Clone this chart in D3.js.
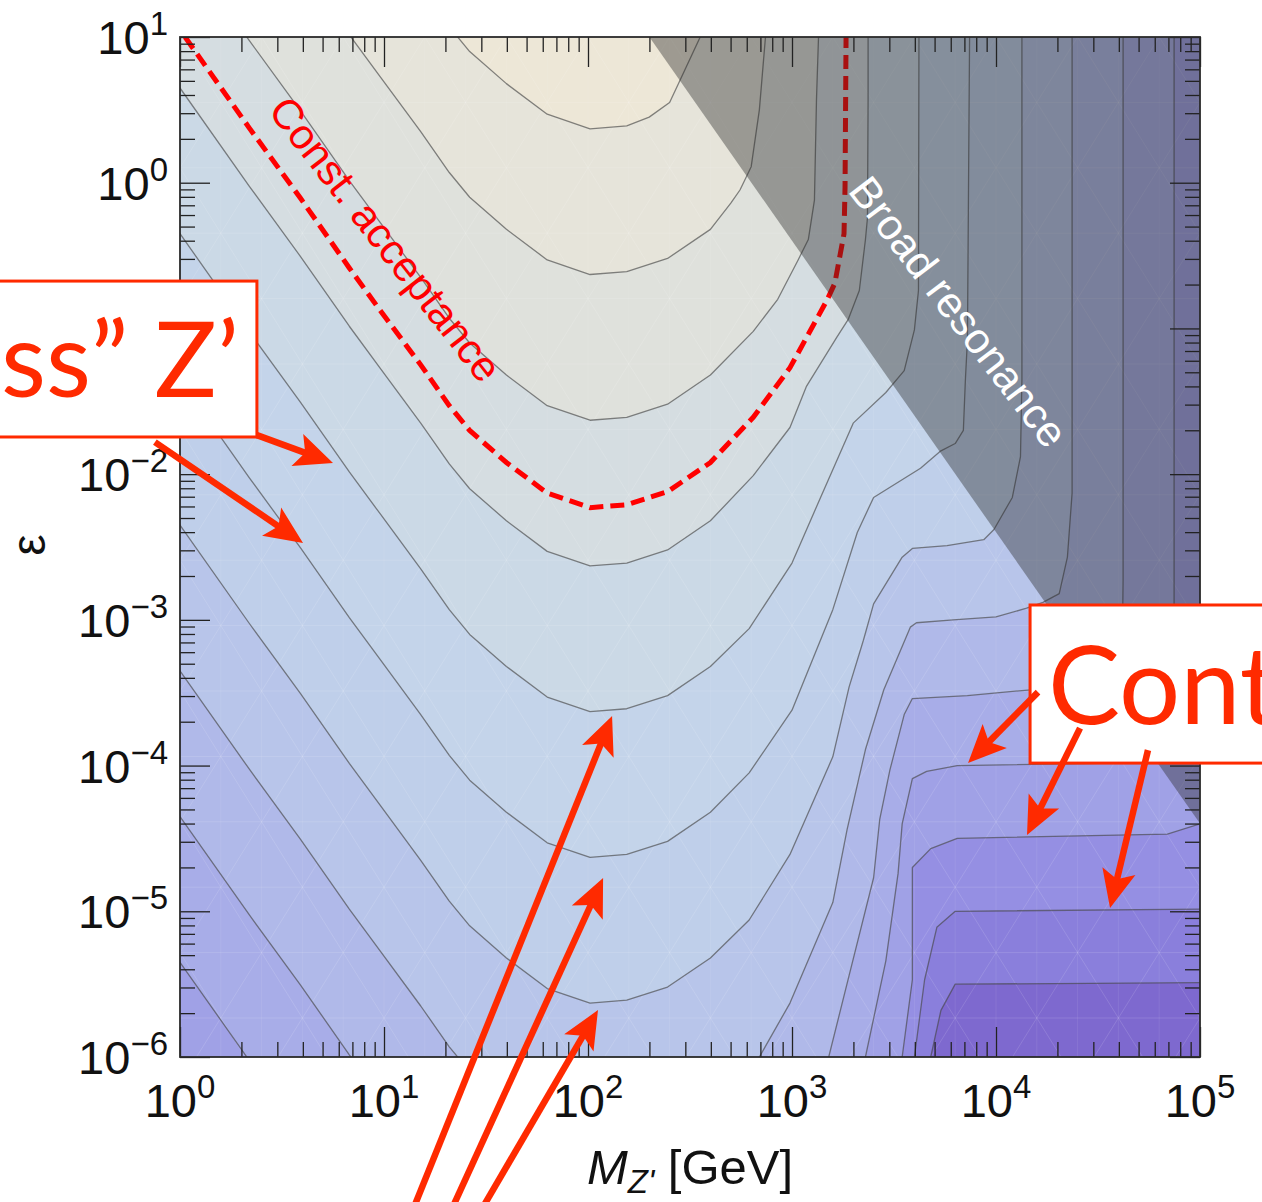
<!DOCTYPE html>
<html>
<head>
<meta charset="utf-8">
<script src="https://cdn.jsdelivr.net/npm/d3@7"></script>
<style>
  html, body { margin: 0; padding: 0; background: #ffffff; }
  svg { display: block; }
</style>
</head>
<body>
<svg id="chart" width="1262" height="1202"></svg>
<script>
// ---------------------------------------------------------------
// Axis decades (exponents of ten)
const massDecades = [0, 1, 2, 3, 4, 5];            // M_Z' = 1 GeV ... 100 TeV
const epsDecades  = [-6, -5, -4, -3, -2, -1, 0, 1]; // ε = 1e-6 ... 10

// Contour lines of the event yield, highest level first.
// Vertices are [log10 M_Z'/GeV, log10 ε]; end points lie just outside the frame.
const contourU1 = [[1.1,1.5],[1.18,1.35],[1.32,1.07],[1.42,0.90],[1.60,0.68],[1.80,0.47],[2.01,0.37],[2.19,0.39],[2.30,0.45],[2.40,0.55],[2.45,0.70],[2.55,1.0],[2.60,1.3]];
const contourU2 = [[0.50,1.7],[0.59,1.50],[0.83,1.015],[0.98,0.73],[1.18,0.35],[1.32,0.07],[1.42,-0.10],[1.60,-0.32],[1.80,-0.53],[2.01,-0.63],[2.19,-0.61],[2.39,-0.52],[2.60,-0.32],[2.70,-0.14],[2.745,-0.05],[2.80,0.11],[2.84,0.50],[2.87,1.0],[2.87,1.5]];
const contourU3 = [[0.1,1.45],[0.2,1.25],[0.34,0.975],[0.59,0.495],[0.83,0.015],[0.98,-0.27],[1.18,-0.65],[1.32,-0.93],[1.42,-1.10],[1.60,-1.32],[1.80,-1.53],[2.01,-1.63],[2.19,-1.61],[2.39,-1.52],[2.60,-1.32],[2.81,-1.02],[2.93,-0.80],[3.03,-0.53],[3.08,-0.39],[3.11,-0.12],[3.12,0.57],[3.13,1.0],[3.13,1.5]];
const contourU4 = [[-0.3,1.24],[0,0.65],[0.34,-0.025],[0.59,-0.505],[0.83,-0.985],[0.98,-1.27],[1.18,-1.65],[1.32,-1.93],[1.42,-2.10],[1.60,-2.32],[1.80,-2.53],[2.01,-2.63],[2.19,-2.61],[2.39,-2.52],[2.60,-2.32],[2.81,-2.01],[2.99,-1.68],[3.07,-1.40],[3.22,-1.06],[3.275,-0.94],[3.33,-0.74],[3.36,-0.39],[3.37,-0.24],[3.373,0.57],[3.373,1.5]];
const contourU5 = [[-0.3,0.24],[0,-0.35],[0.34,-1.025],[0.59,-1.505],[0.83,-1.985],[0.98,-2.27],[1.18,-2.65],[1.32,-2.93],[1.42,-3.10],[1.60,-3.32],[1.80,-3.53],[2.01,-3.63],[2.19,-3.61],[2.39,-3.52],[2.60,-3.32],[2.79,-3.06],[3.0,-2.61],[3.14,-2.16],[3.30,-1.65],[3.46,-1.44],[3.55,-1.29],[3.60,-1.01],[3.62,-0.74],[3.623,1.5]];
const contourU6 = [[-0.3,-0.76],[0,-1.35],[0.34,-2.025],[0.59,-2.505],[0.83,-2.985],[0.98,-3.27],[1.18,-3.65],[1.32,-3.93],[1.42,-4.10],[1.60,-4.32],[1.80,-4.53],[2.01,-4.63],[2.19,-4.61],[2.39,-4.52],[2.60,-4.32],[2.79,-4.05],[3.0,-3.62],[3.20,-2.93],[3.32,-2.40],[3.40,-2.16],[3.63,-1.96],[3.73,-1.84],[3.80,-1.79],[3.84,-1.70],[3.85,-1.35],[3.86,-1.08],[3.873,1.5]];
const contourU7 = [[-0.3,-1.76],[0,-2.35],[0.34,-3.025],[0.59,-3.505],[0.83,-3.985],[0.98,-4.27],[1.18,-4.65],[1.32,-4.93],[1.42,-5.10],[1.60,-5.32],[1.80,-5.53],[2.01,-5.63],[2.19,-5.61],[2.39,-5.52],[2.60,-5.32],[2.79,-5.06],[2.99,-4.61],[3.20,-3.94],[3.28,-3.46],[3.35,-3.14],[3.40,-2.89],[3.54,-2.57],[3.59,-2.51],[3.76,-2.49],[3.94,-2.45],[3.99,-2.38],[4.08,-2.16],[4.12,-1.88],[4.127,-1.35],[4.127,1.5]];
const contourL8 = [[-0.3,-2.76],[0,-3.35],[0.34,-4.025],[0.59,-4.505],[0.83,-4.985],[0.98,-5.27],[1.18,-5.65],[1.32,-5.93],[1.42,-6.10],[1.6,-6.5],[2.75,-6.5],[2.84,-6.0],[2.99,-5.63],[3.20,-4.94],[3.27,-4.44],[3.36,-3.89],[3.45,-3.48],[3.58,-3.05],[3.61,-3.02],[3.79,-3.00],[4.0,-2.98],[4.15,-2.92],[4.23,-2.88],[4.31,-2.82],[4.35,-2.57],[4.373,-2.13],[4.373,1.5]];
const contourL9 = [[-0.3,-3.76],[0,-4.35],[0.34,-5.025],[0.59,-5.505],[0.83,-5.985],[0.98,-6.27],[1.1,-6.5],[3.1,-6.5],[3.18,-6.0],[3.28,-5.44],[3.40,-4.77],[3.43,-4.37],[3.48,-4.03],[3.55,-3.65],[3.59,-3.54],[3.86,-3.52],[4.17,-3.48],[4.36,-3.45],[4.51,-3.38],[4.58,-3.28],[4.62,-3.07],[4.623,-2.73],[4.623,1.5]];
const contourL10 = [[-0.3,-4.76],[0,-5.35],[0.34,-6.025],[0.45,-6.5],[3.3,-6.5],[3.36,-6.0],[3.46,-5.34],[3.52,-4.74],[3.54,-4.40],[3.59,-4.09],[3.66,-4.04],[3.81,-4.0],[4.76,-3.98],[4.84,-3.91],[4.87,-3.72],[4.873,-3.41],[4.873,1.5]];
const contourL11 = [[3.5,-6.5],[3.54,-6.0],[3.59,-5.47],[3.59,-4.70],[3.68,-4.57],[3.81,-4.50],[4.84,-4.47],[5.0,-4.40],[5.12,-4.2],[5.12,1.5]];
const contourL12 = [[3.55,-6.5],[3.60,-6.0],[3.65,-5.47],[3.71,-5.11],[3.80,-5.0],[5.0,-4.985],[5.3,-4.98]];
const contourL13 = [[3.62,-6.5],[3.68,-6.0],[3.73,-5.68],[3.80,-5.50],[5.0,-5.49],[5.3,-5.49]];

const contourLevels = [contourU1, contourU2, contourU3, contourU4, contourU5, contourU6, contourU7,
                       contourL8, contourL9, contourL10, contourL11, contourL12, contourL13];

// Shading of the bands, from below the lowest contour up to above the highest
const bandColors = ["#7e69cf", "#8a7fdc", "#958fe3", "#a0a1e6", "#a8ade8", "#b0b9e9", "#b8c5ea",
                    "#bfcfea", "#c4d4ea", "#cbd9e6", "#d5dde1", "#dfe1dc", "#e6e4da", "#ede7d7"];

// Constant-acceptance curve, [log10 M, log10 ε]
const acceptanceCurve = [[0.025,1.0],[0.34,0.375],[0.59,-0.105],[0.83,-0.585],[0.98,-0.874],[1.18,-1.25],[1.32,-1.53],[1.42,-1.70],[1.60,-1.92],[1.80,-2.13],[2.01,-2.23],[2.19,-2.21],[2.39,-2.12],[2.60,-1.92],[2.81,-1.61],[2.99,-1.27],[3.17,-0.81],[3.21,-0.69],[3.255,-0.35],[3.26,-0.03],[3.265,1.0]];

// Edge of the broad-resonance region: [M (GeV), ε]
const broadResonanceEdge = [[200, 10], [1e5, 4e-5]];

// Call-out arrows: [from, to] in [log10 M, log10 ε]
const masslessArrows = [[[0.377,-1.732],[0.75,-1.924]], [[-0.123,-1.780],[0.603,-2.473]]];
const yieldArrows    = [[[1.127,-7.1],[2.118,-3.660]], [[1.314,-7.1],[2.074,-4.772]], [[1.456,-7.1],[2.049,-5.678]]];
const contactArrows  = [[[4.206,-3.496],[3.863,-3.983]], [[4.412,-3.743],[4.152,-4.477]], [[4.745,-3.894],[4.559,-4.978]]];

// ---------------------------------------------------------------
const svg = d3.select("#chart");
const plot = { left: 180, top: 37, size: 1020 };
const x = d3.scaleLog().domain([1, 1e5]).range([plot.left, plot.left + plot.size]);
const y = d3.scaleLog().domain([1e-6, 10]).range([plot.top + plot.size, plot.top]);
const P = d => [x(Math.pow(10, d[0])), y(Math.pow(10, d[1]))];
const line = d3.line().x(d => P(d)[0]).y(d => P(d)[1]);
const SANS = "'Liberation Sans', Arial, Helvetica, sans-serif";
const CALLOUT = "Lato, 'Open Sans', sans-serif";
const RED = "#ff2a00";

svg.append("defs").append("clipPath").attr("id", "plotClip")
  .append("rect").attr("x", plot.left).attr("y", plot.top)
  .attr("width", plot.size).attr("height", plot.size);

const area = svg.append("g").attr("clip-path", "url(#plotClip)");

// lowest band
area.append("rect").attr("x", plot.left).attr("y", plot.top)
  .attr("width", plot.size).attr("height", plot.size).attr("fill", bandColors[0]);

// filled bands: region above each contour, lowest level first
for (let k = contourLevels.length - 1; k >= 0; k--) {
  const c = contourLevels[k];
  const first = c[0], last = c[c.length - 1];
  const ring = c.concat([[last[0], 2], [-1, 2], [-1, first[1]]]);
  area.append("path").attr("d", line(ring) + "Z")
    .attr("fill", bandColors[contourLevels.length - k]).attr("stroke", "none");
}

// faint triangulation seams of the shaded mesh
const mesh = area.append("g").attr("stroke", "#ffffff").attr("stroke-opacity", 0.13)
  .attr("stroke-width", 1).attr("fill", "none");
const rowH = 65.4, colW = 40.8;
for (let n = 0; n <= 16; n++) {
  const yy = plot.top + n * rowH;
  mesh.append("line").attr("x1", plot.left).attr("x2", plot.left + plot.size).attr("y1", yy).attr("y2", yy);
}
for (let j = 0; j <= 25; j++) {
  const xx = plot.left + j * colW;
  mesh.append("line").attr("x1", xx).attr("x2", xx).attr("y1", plot.top).attr("y2", plot.top + plot.size).attr("stroke-opacity", 0.08);
}
for (let n = 0; n <= 16; n++) {
  const y0 = plot.top + n * rowH, y1 = y0 + rowH;
  const off = (n % 2) * colW;
  for (let k = -1; k <= 13; k++) {
    const xv = plot.left + off + 2 * colW * k;
    mesh.append("line").attr("x1", xv).attr("y1", y0).attr("x2", xv + colW).attr("y2", y1);
    mesh.append("line").attr("x1", xv).attr("y1", y0).attr("x2", xv - colW).attr("y2", y1);
  }
}

// contour lines
area.append("g").selectAll("path").data(contourLevels).join("path")
  .attr("d", line).attr("fill", "none")
  .attr("stroke", "rgba(70,70,70,0.65)").attr("stroke-width", 1.3)
  .attr("stroke-linejoin", "round");

// constant acceptance
area.append("path").attr("d", line(acceptanceCurve)).attr("fill", "none")
  .attr("stroke", "#ff0000").attr("stroke-width", 5).attr("stroke-dasharray", "14,7");

// broad resonance shading
const e0 = broadResonanceEdge[0], e1 = broadResonanceEdge[1];
area.append("path")
  .attr("d", d3.line()([[x(e0[0]), y(e0[1])], [x(e1[0]), y(e1[1])], [x(e1[0]) + 5, y(e1[1])], [x(e1[0]) + 5, y(e0[1]) - 5], [x(e0[0]), y(e0[1]) - 5]]) + "Z")
  .attr("fill", "rgba(40,40,40,0.4)");

// in-plot labels
{
  const a = P([0.426, 0.492]);
  svg.append("text").attr("transform", `translate(${a[0]},${a[1]}) rotate(52)`)
    .attr("font-family", SANS).attr("font-size", 42).attr("fill", "#ff0000")
    .text("Const. acceptance");
  const b = P([3.270, -0.057]);
  svg.append("text").attr("transform", `translate(${b[0]},${b[1]}) rotate(52.5)`)
    .attr("font-family", SANS).attr("font-size", 43).attr("fill", "#ffffff")
    .text("Broad resonance");
}

// ticks
const minor = (decs) => {
  const v = [];
  for (let i = 0; i < decs.length - 1; i++)
    for (let m = 2; m <= 9; m++) v.push(m * Math.pow(10, decs[i]));
  return v;
};
const xMajor = massDecades.map(d => Math.pow(10, d)), xMinor = minor(massDecades);
const yMajor = epsDecades.map(d => Math.pow(10, d)), yMinor = minor(epsDecades);
const styleAxis = g => {
  g.select(".domain").remove();
  g.selectAll(".tick line").attr("stroke", "#222").attr("stroke-width", 1.3);
  g.selectAll(".tick text").remove();
};
const axes = [
  [d3.axisBottom(x), `translate(0,${plot.top + plot.size})`, xMajor, xMinor],
  [d3.axisTop(x), `translate(0,${plot.top})`, xMajor, xMinor],
  [d3.axisLeft(y), `translate(${plot.left},0)`, yMajor, yMinor],
  [d3.axisRight(y), `translate(${plot.left + plot.size},0)`, yMajor, yMinor]
];
axes.forEach(([ax, tr, maj, mnr]) => {
  svg.append("g").attr("transform", tr).call(ax.tickValues(maj).tickSize(-30).tickSizeOuter(0)).call(styleAxis);
  svg.append("g").attr("transform", tr).call(ax.tickValues(mnr).tickSize(-15).tickSizeOuter(0)).call(styleAxis);
});

// frame
svg.append("rect").attr("x", plot.left).attr("y", plot.top)
  .attr("width", plot.size).attr("height", plot.size)
  .attr("fill", "none").attr("stroke", "#2a2a2a").attr("stroke-width", 1.8);

// tick labels
const expText = d => (d < 0 ? "\u2212" + Math.abs(d) : String(d));
massDecades.forEach(d => {
  const t = svg.append("text").attr("x", x(Math.pow(10, d))).attr("y", 1117)
    .attr("text-anchor", "middle").attr("font-family", SANS).attr("font-size", 47).attr("fill", "#111");
  t.append("tspan").text("10");
  t.append("tspan").attr("dy", -19).attr("font-size", 33).text(expText(d));
});
epsDecades.forEach(d => {
  const t = svg.append("text").attr("x", 168).attr("y", y(Math.pow(10, d)) + 17)
    .attr("text-anchor", "end").attr("font-family", SANS).attr("font-size", 47).attr("fill", "#111");
  t.append("tspan").text("10");
  t.append("tspan").attr("dy", -19).attr("font-size", 33).text(expText(d));
});

// axis titles
{
  const t = svg.append("text").attr("x", plot.left + plot.size / 2).attr("y", 1184)
    .attr("text-anchor", "middle").attr("font-family", SANS).attr("font-size", 49).attr("fill", "#111");
  t.append("tspan").attr("font-style", "italic").text("M");
  t.append("tspan").attr("font-style", "italic").attr("font-size", 33).attr("dy", 9).text("Z'");
  t.append("tspan").attr("dy", -9).text(" [GeV]");
  svg.append("text").attr("transform", "translate(45,545) rotate(-90)")
    .attr("text-anchor", "middle").attr("font-family", SANS).attr("font-size", 48).attr("fill", "#111")
    .text("\u03b5");
}

// call-outs
function arrow(g, from, to) {
  const a = P(from), b = P(to);
  const dx = b[0] - a[0], dy = b[1] - a[1], len = Math.hypot(dx, dy);
  const ux = dx / len, uy = dy / len, px = -uy, py = ux;
  const L = 38, Wd = 17;
  g.append("line").attr("x1", a[0]).attr("y1", a[1])
    .attr("x2", b[0] - ux * L * 0.7).attr("y2", b[1] - uy * L * 0.7)
    .attr("stroke", RED).attr("stroke-width", 6.5);
  const pts = [
    [b[0], b[1]],
    [b[0] - ux * L + px * Wd, b[1] - uy * L + py * Wd],
    [b[0] - ux * L * 0.78, b[1] - uy * L * 0.78],
    [b[0] - ux * L - px * Wd, b[1] - uy * L - py * Wd]
  ];
  g.append("path").attr("d", d3.line()(pts) + "Z").attr("fill", RED);
}

const callouts = svg.append("g");
function box(g, tl, br) {
  const a = P(tl), b = P(br);
  g.append("rect").attr("x", a[0]).attr("y", a[1]).attr("width", b[0] - a[0]).attr("height", b[1] - a[1])
    .attr("fill", "#ffffff").attr("stroke", RED).attr("stroke-width", 3);
}
box(callouts, [-1.0, -0.675], [0.377, -1.745]);
{
  const p = P([0.289, -1.471]);
  callouts.append("text").attr("x", p[0]).attr("y", p[1]).attr("text-anchor", "end")
    .attr("font-family", CALLOUT).attr("font-size", 104).attr("fill", RED)
    .text("\u201cMassless\u201d Z\u2019");
}
masslessArrows.forEach(a => arrow(callouts, a[0], a[1]));

box(callouts, [4.167, -2.898], [5.392, -3.983]);
{
  const p = P([4.255, -3.715]);
  callouts.append("text").attr("x", p[0]).attr("y", p[1]).attr("text-anchor", "start")
    .attr("font-family", CALLOUT).attr("font-size", 108).attr("fill", RED)
    .text("Contact");
}
contactArrows.forEach(a => arrow(callouts, a[0], a[1]));
yieldArrows.forEach(a => arrow(callouts, a[0], a[1]));
</script>
</body>
</html>
